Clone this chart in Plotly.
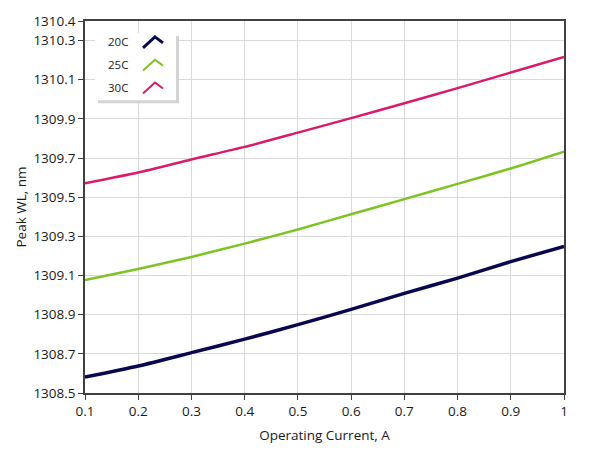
import plotly.graph_objects as go

current = [0.1, 0.2, 0.3, 0.4, 0.5, 0.6, 0.7, 0.8, 0.9, 1.0]
wl_20c = [1308.581, 1308.638, 1308.706, 1308.775, 1308.849, 1308.927, 1309.009, 1309.087, 1309.171, 1309.249]
wl_25c = [1309.077, 1309.133, 1309.195, 1309.263, 1309.335, 1309.413, 1309.490, 1309.568, 1309.647, 1309.733]
wl_30c = [1309.571, 1309.626, 1309.693, 1309.757, 1309.830, 1309.904, 1309.980, 1310.057, 1310.137, 1310.216]
series_names = ["20C", "25C", "30C"]
colors = ["#08084f", "#7cc424", "#da1a6a"]
widths = [3.5, 2.5, 2.5]
x_ticks = [0.1, 0.2, 0.3, 0.4, 0.5, 0.6, 0.7, 0.8, 0.9, 1.0]
x_ticklabels = ["0.1", "0.2", "0.3", "0.4", "0.5", "0.6", "0.7", "0.8", "0.9", "1"]
y_ticks = [1308.5, 1308.7, 1308.9, 1309.1, 1309.3, 1309.5, 1309.7, 1309.9, 1310.1, 1310.3, 1310.4]
y_ticklabels = ["1308.5", "1308.7", "1308.9", "1309.1", "1309.3", "1309.5", "1309.7", "1309.9", "1310.1", "1310.3", "1310.4"]

W, H = 589, 456
L, R, T, B = 85, 564, 18, 393

def px(x):
    return (x - L) / (R - L)

def py(y):
    return (B - y) / (B - T)

FONT = "Open Sans"

fig = go.Figure()
for name, ys, c, w in zip(series_names, [wl_20c, wl_25c, wl_30c], colors, widths):
    fig.add_trace(go.Scatter(x=current, y=ys, mode="lines", name=name,
                             line=dict(color=c, width=w, shape="spline", smoothing=0.6),
                             showlegend=False))

shapes = []
shapes.append(dict(type="rect", xref="paper", yref="paper",
                   x0=px(98), x1=px(179), y0=py(101), y1=py(33),
                   fillcolor="#d4d4d4", line=dict(width=0), layer="above"))
shapes.append(dict(type="rect", xref="paper", yref="paper",
                   x0=px(95), x1=px(176), y0=py(98), y1=py(30),
                   fillcolor="white", line=dict(width=0), layer="above"))
annotations = []
row_y = [39, 62, 85]
for name, c, w, ry in zip(series_names, colors, widths, row_y):
    path = "M {:.4f},{:.4f} L {:.4f},{:.4f} L {:.4f},{:.4f}".format(
        px(143), py(ry + 6), px(155), py(ry - 5), px(163), py(ry + 1))
    shapes.append(dict(type="path", xref="paper", yref="paper", path=path,
                       line=dict(color=c, width=3 if w > 3 else 2), layer="above"))
    annotations.append(dict(xref="paper", yref="paper", x=px(118), y=py(ry),
                            text=name, showarrow=False, xanchor="center", yanchor="middle",
                            font=dict(family=FONT, size=11.5, color="#222222")))

fig.update_layout(
    width=W, height=H,
    margin=dict(l=L, r=W - R, t=T, b=H - B, pad=0),
    paper_bgcolor="white", plot_bgcolor="white",
    font=dict(family=FONT, size=13.5, color="#1a1a1a"),
    shapes=shapes, annotations=annotations,
    xaxis=dict(range=[0.1, 1.0], tickvals=x_ticks, ticktext=x_ticklabels,
               showgrid=True, gridcolor="#d9d9d9", gridwidth=1,
               showline=True, linecolor="#404040", linewidth=1.5, mirror=True,
               ticks="outside", ticklen=5, tickcolor="#404040", tickwidth=1,
               zeroline=False,
               title=dict(text="Operating Current, A", standoff=12,
                          font=dict(family=FONT, size=13.5))),
    yaxis=dict(range=[1308.5, 1310.4], tickvals=y_ticks, ticktext=y_ticklabels,
               showgrid=True, gridcolor="#d9d9d9", gridwidth=1,
               showline=True, linecolor="#404040", linewidth=1.5, mirror=True,
               ticks="outside", ticklen=5, tickcolor="#404040", tickwidth=1,
               zeroline=False,
               title=dict(text="Peak WL, nm", standoff=4,
                          font=dict(family=FONT, size=13.5))),
)

fig.write_html("out.html", config={"displayModeBar": False},
               post_script="document.body.style.margin='0';document.body.style.padding='0';")
